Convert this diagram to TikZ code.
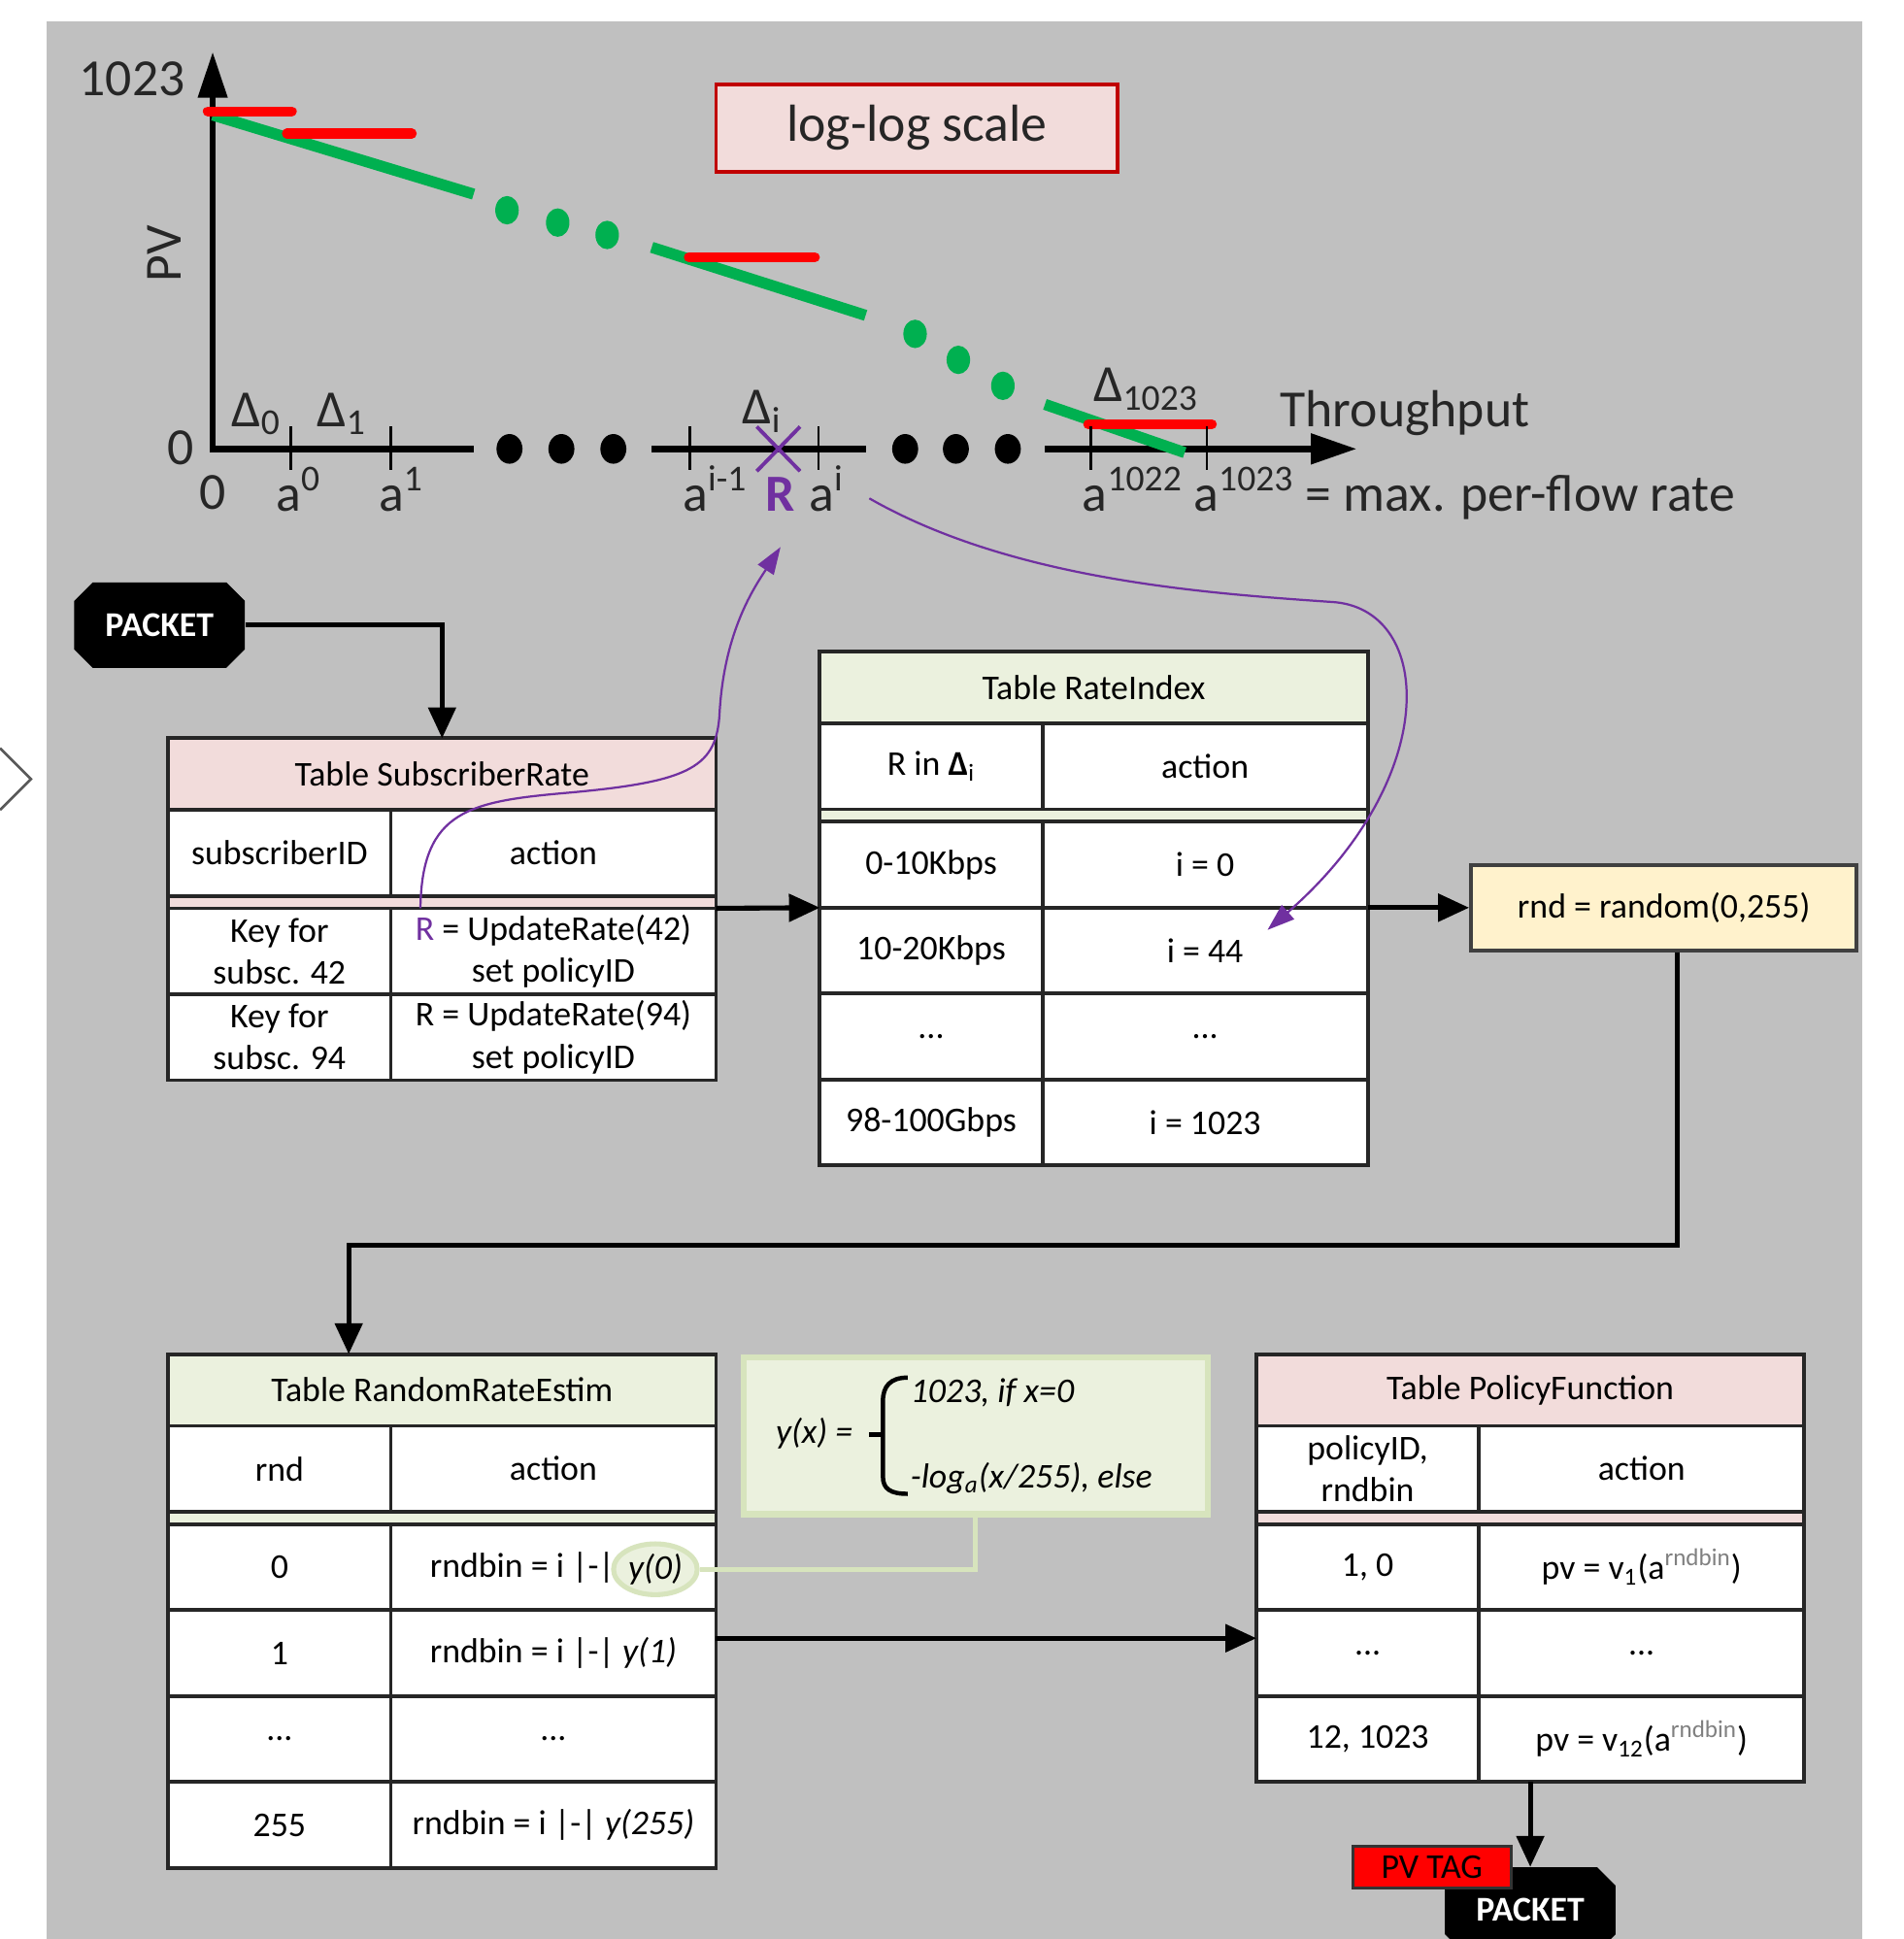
\documentclass[tikz,border=0pt]{standalone}
\usepackage{fontspec}
\setmainfont{Carlito}
\usepackage{xcolor}
\definecolor{rtGray}{RGB}{192,192,192}
\definecolor{rtPink}{RGB}{242,220,219}
\definecolor{rtSage}{RGB}{235,241,222}
\definecolor{rtSageLine}{RGB}{215,228,189}
\definecolor{rtCream}{RGB}{255,242,204}
\definecolor{rtRed}{RGB}{255,0,0}
\definecolor{rtDarkRed}{RGB}{192,0,0}
\definecolor{rtGreen}{RGB}{0,176,80}
\definecolor{rtPurple}{RGB}{112,48,160}
\usepackage{tikz}
\usetikzlibrary{positioning,arrows.meta,shapes.misc,shapes.geometric}
\newcommand\tblfont{\fontsize{16}{19.3}\selectfont}
\newcommand\axfont{\fontsize{24}{28}\selectfont}

\begin{document}
\begin{tikzpicture}[x=0.2mm,y=-0.2mm,
  cl/.style={draw=black!85,line width=0.6mm,fill=white,inner sep=0pt,outer sep=0pt,align=center,font=\tblfont,minimum height=13.9mm},
  ca/.style={cl,minimum width=36mm},
  cb/.style={cl,minimum width=52.6mm},
  hd/.style={cl,minimum width=88.6mm,minimum height=11.6mm},
  sp/.style={cl,minimum width=88.6mm,minimum height=2mm},
  pk/.style={chamfered rectangle,chamfered rectangle xsep=2mm,fill=black,text=white,font=\tblfont\bfseries,minimum width=27.6mm,minimum height=13.8mm,inner sep=0pt},
  lb/.style={font=\axfont,inner sep=0pt,text=black!85},
  fm/.style={font=\tblfont\itshape,inner sep=0pt,anchor=base west},
  a/.style={-{Triangle[length=5mm,width=4.4mm]},line width=0.8mm},
  ax/.style={line width=1mm},
  pc/.style={-{Triangle[length=4.4mm,width=3mm]},rtPurple,line width=0.35mm}]
  \useasboundingbox (0,0) rectangle (1539,1568);
  \clip (0,0) rectangle (1539,1568);
  \fill[rtGray] (38,17) rectangle (1506,1568);
  \draw[black!65,line width=0.4mm] (0,605) -- (25,630) -- (0,655);

  \node[draw=rtDarkRed,fill=rtPink,line width=0.6mm,minimum width=65mm,minimum height=14.2mm,font=\axfont,text=black!85] (loglog) at (741.5,103.5) {log-log scale};

  \draw[ax,{Triangle[length=7.4mm,width=4.6mm]}-] (172,42) -- (172,363) -- (383,363);
  \draw[ax] (527,363) -- (700,363);
  \draw[ax,-{Triangle[length=7.4mm,width=4.8mm]}] (845,363) -- (1097,363);
  \foreach \x in {412,454,496,732,773,815}
    \fill (\x,363) ellipse [x radius=2.1mm,y radius=2.4mm];
  \draw[rtGreen,line width=1.8mm] (172,93) -- (383,157) (527,200) -- (700,255) (845,327) -- (958,366);
  \foreach \x/\y in {410/170,451/180,491/190,740/270,775/291,811/312}
    \fill[rtGreen] (\x,\y) ellipse [x radius=1.9mm,y radius=2.3mm];
  \draw[rtRed,line width=1.6mm,line cap=round] (168,90) -- (236,90) (232,108) -- (333,108) (557,208) -- (659,208) (880,343) -- (980,343);
  \foreach \x in {235,316,558,662,882,976}
    \draw[line width=0.4mm] (\x,345) -- (\x,380);
  \draw[rtPurple,line width=0.6mm] (612,345) -- (647,381) (612,381) -- (647,345);

  \node[lb,anchor=base east] (vmax) at (150,77) {1023};
  \node[lb,rotate=90] (pv) at (133,205) {PV};
  \node[lb] (vzero) at (146,362) {0};
  \node[lb] (xzero) at (172,398) {0};
  \node[lb,anchor=base west] (d0) at (187,345) {Δ\textsubscript{0}};
  \node[lb,anchor=base west] (d1) at (256,345) {Δ\textsubscript{1}};
  \node[lb,anchor=base west] (di) at (600,343) {Δ\textsubscript{i}};
  \node[lb,anchor=base west] (dn) at (884,325) {Δ\textsubscript{1023}};
  \node[lb,anchor=base west] (thr) at (1035,345) {Throughput};
  \node[lb,anchor=base west] (a0) at (223,413) {a\textsuperscript{0}};
  \node[lb,anchor=base west] (a1) at (306,413) {a\textsuperscript{1}};
  \node[lb,anchor=base west] (aim) at (552,413) {a\textsuperscript{i-1}};
  \node[lb,anchor=base west,text=rtPurple,font=\axfont\bfseries] (rlab) at (619,413) {R};
  \node[lb,anchor=base west] (ai) at (654,413) {a\textsuperscript{i}};
  \node[lb,anchor=base west] (am) at (875,413) {a\textsuperscript{1022}};
  \node[lb,anchor=base west] (an) at (965,413) {a\textsuperscript{1023} = max. per-flow rate};

  \node[pk] (pkt1) at (129,505.5) {PACKET};

  \node[hd,fill=rtPink,anchor=north west] (sr) at (136,597) {Table SubscriberRate};
  \node[ca,below=0pt of sr.south west,anchor=north west] (sr-ha) {subscriberID};
  \node[cb,right=0pt of sr-ha] (sr-hb) {action};
  \node[sp,fill=rtPink,below=0pt of sr-ha.south west,anchor=north west] (sr-s) {};
  \node[ca,below=0pt of sr-s.south west,anchor=north west] (sr-1a) {Key for\\subsc. 42};
  \node[cb,right=0pt of sr-1a] (sr-1b) {\textcolor{rtPurple}{R} = UpdateRate(42)\\set policyID};
  \node[ca,below=0pt of sr-1a] (sr-2a) {Key for\\subsc. 94};
  \node[cb,right=0pt of sr-2a] (sr-2b) {R = UpdateRate(94)\\set policyID};

  \node[hd,fill=rtSage,anchor=north west] (ri) at (663,527) {Table RateIndex};
  \node[ca,below=0pt of ri.south west,anchor=north west] (ri-ha) {R in \textbf{Δ}\textsubscript{i}};
  \node[cb,right=0pt of ri-ha] (ri-hb) {action};
  \node[sp,fill=rtSage,below=0pt of ri-ha.south west,anchor=north west] (ri-s) {};
  \node[ca,below=0pt of ri-s.south west,anchor=north west] (ri-1a) {0-10Kbps};
  \node[cb,right=0pt of ri-1a] (ri-1b) {i = 0};
  \node[ca,below=0pt of ri-1a] (ri-2a) {10-20Kbps};
  \node[cb,right=0pt of ri-2a] (ri-2b) {i = 44};
  \node[ca,below=0pt of ri-2a] (ri-3a) {...};
  \node[cb,right=0pt of ri-3a] (ri-3b) {...};
  \node[ca,below=0pt of ri-3a] (ri-4a) {98-100Gbps};
  \node[cb,right=0pt of ri-4a] (ri-4b) {i = 1023};

  \node[draw=black!75,fill=rtCream,line width=0.6mm,minimum width=62.4mm,minimum height=13.8mm,font=\tblfont,right=16.4mm of ri-1b.south east,anchor=west] (rnd) {rnd = random(0,255)};

  \node[hd,fill=rtSage,anchor=north west] (rr) at (136,1095) {Table RandomRateEstim};
  \node[ca,below=0pt of rr.south west,anchor=north west] (rr-ha) {rnd};
  \node[cb,right=0pt of rr-ha] (rr-hb) {action};
  \node[sp,fill=rtSage,below=0pt of rr-ha.south west,anchor=north west] (rr-s) {};
  \node[ca,below=0pt of rr-s.south west,anchor=north west] (rr-1a) {0};
  \node[cb,right=0pt of rr-1a] (rr-1b) {rndbin = i |-| \phantom{\textit{y(0)}}};
  \node[ca,below=0pt of rr-1a] (rr-2a) {1};
  \node[cb,right=0pt of rr-2a] (rr-2b) {rndbin = i |-| \textit{y(1)}};
  \node[ca,below=0pt of rr-2a] (rr-3a) {...};
  \node[cb,right=0pt of rr-3a] (rr-3b) {...};
  \node[ca,below=0pt of rr-3a] (rr-4a) {255};
  \node[cb,right=0pt of rr-4a] (rr-4b) {rndbin = i |-| \textit{y(255)}};

  \node[draw=rtSageLine,fill=rtSage,line width=1mm,minimum width=75mm,minimum height=25.4mm,anchor=north west] (fx) at ([xshift=4mm]rr.north east) {};
  \node[fm] (fxl) at (627,1167) {y(x) =};
  \node[fm] (fx1) at (736,1134) {1023, if x=0};
  \node[fm] (fx2) at (736,1203) {-log\textsubscript{a}(x/255), else};
  \draw[line width=0.7mm] (734,1114) .. controls (720,1114) and (714,1121) .. (714,1133) -- (714,1194) .. controls (714,1204) and (720,1208) .. (734,1208);
  \draw[line width=0.7mm] (703,1160) -- (714,1160);
  \node[ellipse,draw=rtSageLine,fill=rtSage,line width=0.8mm,inner sep=0.4mm,font=\tblfont\itshape] (y0) at (530,1269) {y(0)};

  \node[hd,fill=rtPink,anchor=north west] (pf) at (1016,1095) {Table PolicyFunction};
  \node[ca,below=0pt of pf.south west,anchor=north west] (pf-ha) {policyID,\\rndbin};
  \node[cb,right=0pt of pf-ha] (pf-hb) {action};
  \node[sp,fill=rtPink,below=0pt of pf-ha.south west,anchor=north west] (pf-s) {};
  \node[ca,below=0pt of pf-s.south west,anchor=north west] (pf-1a) {1, 0};
  \node[cb,right=0pt of pf-1a] (pf-1b) {pv = v\textsubscript{1}(a\textsuperscript{\textcolor{black!50}{rndbin}})};
  \node[ca,below=0pt of pf-1a] (pf-2a) {...};
  \node[cb,right=0pt of pf-2a] (pf-2b) {...};
  \node[ca,below=0pt of pf-2a] (pf-3a) {12, 1023};
  \node[cb,right=0pt of pf-3a] (pf-3b) {pv = v\textsubscript{12}(a\textsuperscript{\textcolor{black!50}{rndbin}})};

  \node[pk] (pkt2) at (1237.5,1544.5) {PACKET};
  \node[draw=black!80,fill=rtRed,line width=0.5mm,minimum width=25.6mm,minimum height=6.8mm,inner sep=0pt,font=\tblfont,text=black] (tag) at (1158,1510) {PV TAG};

  \coordinate (turn) at (282,1007);
  \coordinate (rsrc) at ([xshift=4.8mm]sr-1b.north west);
  \coordinate (rtip) at ([yshift=-5.8mm]rlab.south);
  \coordinate (cstart) at (703,403);
  \coordinate (c44) at (1025,752);

  \draw[a] (pkt1.east) -| (sr.north);
  \draw[a] (sr-1b.north east) -- (ri-1a.south west);
  \draw[a] (ri-1b.south east) -- (rnd.west);
  \draw[a] ([xshift=2.2mm]rnd.south) |- (turn) -- (turn |- rr.north);
  \draw[a] ([yshift=2.4mm]rr-2b.east) -- ([yshift=2.4mm]rr-2b.east -| pf-2a.west);
  \draw[a] (pkt2.north |- pf-3a.south) -- (pkt2.north);
  \draw[draw=rtSageLine,line width=0.8mm] (y0.east) -| (fx.south);
  \draw[pc] (rsrc) .. controls (341,655) and (380,648) .. (460,641) .. controls (560,632) and (580,620) .. (582,575) .. controls (586,510) and (610,475) .. (rtip);
  \draw[pc] (cstart) .. controls (820,470) and (980,480) .. (1080,487) .. controls (1160,495) and (1165,630) .. (c44);
\end{tikzpicture}
\end{document}
